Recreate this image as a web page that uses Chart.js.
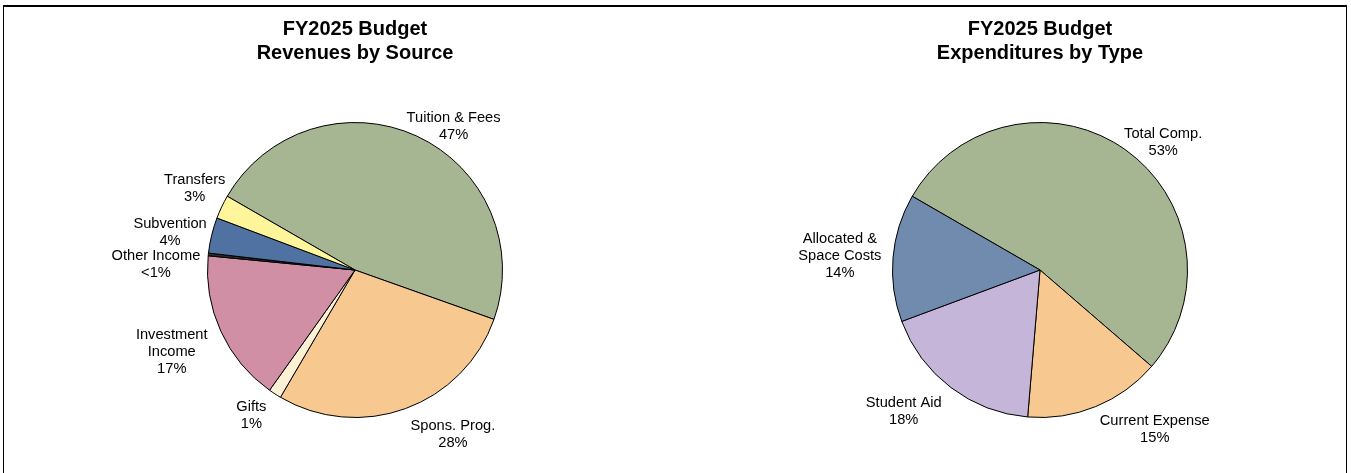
<!DOCTYPE html>
<html>
<head>
<meta charset="utf-8">
<title>FY2025 Budget</title>
<script src="https://cdn.jsdelivr.net/npm/chart.js@4.4.1/dist/chart.umd.min.js"></script>
<style>
  html, body { margin: 0; padding: 0; background: #fff; }
  body { width: 1351px; height: 473px; position: relative; overflow: hidden; }
  .frame {
    position: absolute; left: 3px; top: 5px; width: 1344px; height: 470px;
    box-sizing: border-box;
    border-top: 2px solid #000; border-left: 1px solid #000; border-right: 1px solid #000;
    pointer-events: none;
  }
  .pie { position: absolute; top: 0; height: 473px; }
  #revWrap { left: 30px; width: 650px; }
  #expWrap { left: 730px; width: 620px; }
</style>
</head>
<body>
<div class="pie" id="revWrap"><canvas id="revChart"></canvas></div>
<div class="pie" id="expWrap"><canvas id="expChart"></canvas></div>
<div class="frame"></div>

<script>
// revenues, percent of total
const revLabels = ["Tuition & Fees", "Spons. Prog.", "Gifts", ["Investment", "Income"], "Other Income", "Subvention", "Transfers"]
const revValues = [47.1, 28.0, 1.4, 16.7, 0.3, 3.9, 2.6]
const revColors = ["#A6B592", "#F7C88F", "#FCF1D4", "#D18FA6", "#2B2B2B", "#4F72A2", "#FFF59B"]

// expenditures, percent of total
const expLabels = ["Total Comp.", "Current Expense", "Student Aid", ["Allocated &", "Space Costs"]]
const expValues = [53, 15, 18, 14]
const expColors = ["#A6B592", "#F7C88F", "#C5B5D8", "#708BAD"]

// where each label sits: [angle clockwise from 12 o'clock, distance in radii]
const revSpots = [[34.5, 1.18], [149.3, 1.30], [215.5, 1.21], [246, 1.36], [271.7, 1.35], [281.6, 1.28], [297, 1.22]]
const expSpots = [[44.1, 1.20], [144.2, 1.33], [224, 1.33], [274, 1.36]]

const FONT = "'Liberation Sans', Arial, Helvetica, sans-serif"

function pctText(v) {
    return v < 1 ? "<1%" : Math.round(v) + "%"
}

// draws category + percent beside each slice
const sliceLabels = {
    id: "sliceLabels",
    afterDatasetsDraw(chart, args, opts) {
        const ctx = chart.ctx
        const meta = chart.getDatasetMeta(0)
        const values = chart.data.datasets[0].data
        ctx.save()
        ctx.font = "14.67px " + FONT
        ctx.fillStyle = "#000"
        ctx.textAlign = "center"
        ctx.textBaseline = "middle"
        meta.data.forEach((arc, i) => {
            const spot = opts.spots[i]
            const a = spot[0] * Math.PI / 180
            const d = arc.outerRadius * spot[1]
            const cx = arc.x + Math.sin(a) * d
            const cy = arc.y - Math.cos(a) * d
            const name = chart.data.labels[i]
            const lines = (Array.isArray(name) ? name.slice() : [name])
            lines.push(pctText(values[i]))
            const lh = 17
            const y0 = cy - (lines.length - 1) * lh / 2
            lines.forEach((t, k) => ctx.fillText(t, cx, y0 + k * lh))
        })
        ctx.restore()
    }
}

function makePie(id, title, labels, values, colors, spots) {
    return new Chart(id, {
        type: "pie",
        data: {
            labels: labels,
            datasets: [{
                data: values,
                backgroundColor: colors,
                borderColor: "#000",
                borderWidth: 1,
                hoverOffset: 0
            }]
        },
        options: {
            responsive: true,
            maintainAspectRatio: false,
            animation: false,
            rotation: -60,
            layout: {padding: {top: 0, bottom: 55, left: 0, right: 0}},
            plugins: {
                legend: {display: false},
                tooltip: {enabled: false},
                title: {
                    display: true,
                    text: title,
                    color: "#000",
                    font: {family: FONT, size: 20, weight: "bold", lineHeight: 1.2},
                    padding: {top: 17, bottom: 57}
                },
                sliceLabels: {spots: spots}
            }
        },
        plugins: [sliceLabels]
    })
}

makePie("revChart", ["FY2025 Budget", "Revenues by Source"], revLabels, revValues, revColors, revSpots)
makePie("expChart", ["FY2025 Budget", "Expenditures by Type"], expLabels, expValues, expColors, expSpots)
</script>
</body>
</html>
